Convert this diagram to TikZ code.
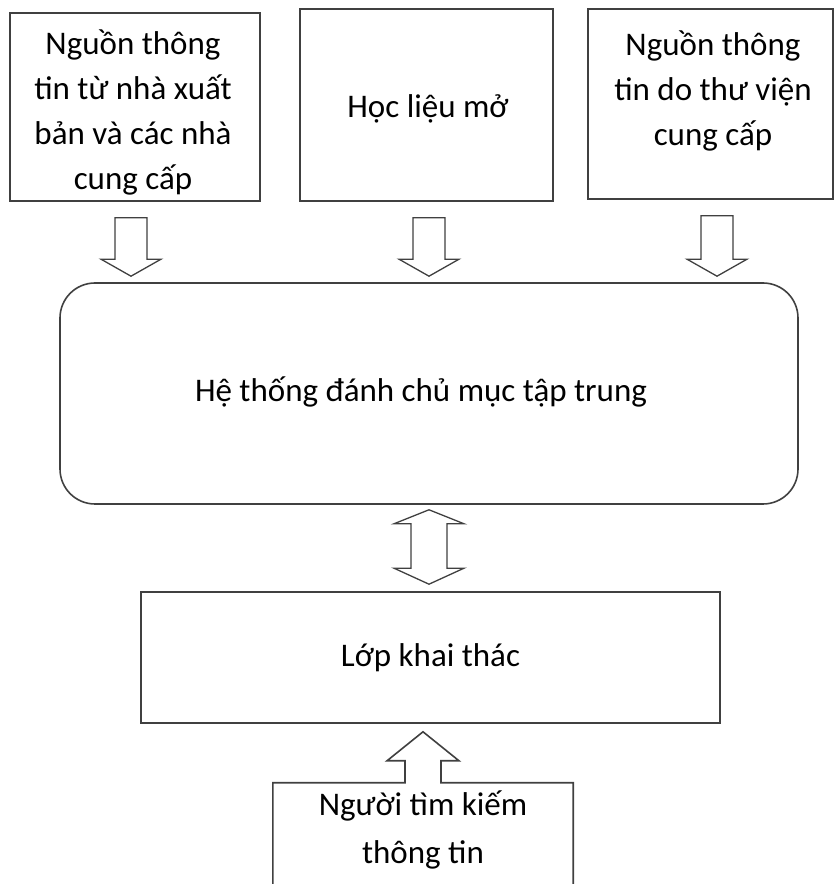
\documentclass[tikz,border=0pt]{standalone}
\usepackage{fontspec}
\setmainfont{Carlito}
\usetikzlibrary{calc,positioning}

% hollow block arrow from one box down to the next
\newcommand\fatdown[3]{%
  \draw[fat] let \p1 = ($(#1.south)+(#3,-16pt)$),
                 \p2 = ($(#1.south |- #2.north)+(#3,6pt)$) in
    (\x1-16pt,\y1) -- (\x1+16pt,\y1) -- (\x1+16pt,\y2+17pt)
    -- (\x1+30pt,\y2+17pt) -- (\x2,\y2) -- (\x1-30pt,\y2+17pt)
    -- (\x1-16pt,\y2+17pt) -- cycle;
}

\begin{document}
\begin{tikzpicture}[x=1pt, y=1pt,
  box/.style={rectangle, draw=black!75, line width=1.6pt, inner sep=0pt,
              align=center, font=\fontsize{33}{45}\selectfont},
  txt/.style={align=center, inner sep=0pt, font=\fontsize{33}{45}\selectfont},
  fat/.style={draw=black!75, line width=1.3pt, fill=white, line join=miter},
  outline/.style={draw=black!75, line width=1.6pt, line join=miter},
]
\useasboundingbox (0,0) rectangle (835,884);

% sources
\node[box, minimum width=250pt, minimum height=188pt] (src1) at (135,777) {};
\node[box, minimum width=253pt, minimum height=192pt] (src2) at (426.5,779) {};
\node[box, minimum width=245pt, minimum height=190pt] (src3) at (710.5,780) {};
\node[txt] (src1text) at (133,772) {Nguồn thông\\tin từ nhà xuất\\bản và các nhà\\cung cấp};
\node[txt] (src2text) at (428,775) {Học liệu mở};
\node[txt] (src3text) at (713,793) {Nguồn thông\\tin do thư viện\\cung cấp};

% central index
\node[box, rounded corners=35pt, minimum width=738pt, minimum height=221pt]
  (index) at (429,490.5) {};
\node[txt] (indextext) at (421,492) {Hệ thống đánh chủ mục tập trung};
\node[box, minimum width=579pt, minimum height=131pt]
  (access) at (430.5,226.5) {Lớp khai thác};
\node[txt, minimum width=300pt, minimum height=94pt,
      font=\fontsize{33}{48}\selectfont]
  (user) at (423,54) {Người tìm kiếm\\thông tin};

\fatdown{src1}{index}{-4pt}
\fatdown{src2}{index}{2.5pt}
\fatdown{src3}{index}{6.5pt}

% two-way arrow
\draw[fat] let \p1 = ($(index.south)+(0,-5pt)$),
               \p2 = ($(index.south |- access.north)+(0,7pt)$) in
  (\x1,\y1) -- (\x1+35pt,\y1-14pt) -- (\x1+18pt,\y1-14pt)
  -- (\x1+18pt,\y2+16pt) -- (\x1+35pt,\y2+16pt) -- (\x2,\y2)
  -- (\x1-35pt,\y2+16pt) -- (\x1-18pt,\y2+16pt) -- (\x1-18pt,\y1-14pt)
  -- (\x1-35pt,\y1-14pt) -- cycle;

% user box, its top grows into the up arrow
\draw[outline] ($(user.south west)+(0,-20pt)$) -- (user.north west)
  -- ($(user.north)+(-18pt,0)$) -- ($(user.north)+(-18pt,22pt)$)
  -- ($(user.north)+(-36pt,22pt)$) -- ($(user.north |- access.south)+(0,-8pt)$)
  -- ($(user.north)+(36pt,22pt)$) -- ($(user.north)+(18pt,22pt)$)
  -- ($(user.north)+(18pt,0)$) -- (user.north east)
  -- ($(user.south east)+(0,-20pt)$);
\end{tikzpicture}
\end{document}
